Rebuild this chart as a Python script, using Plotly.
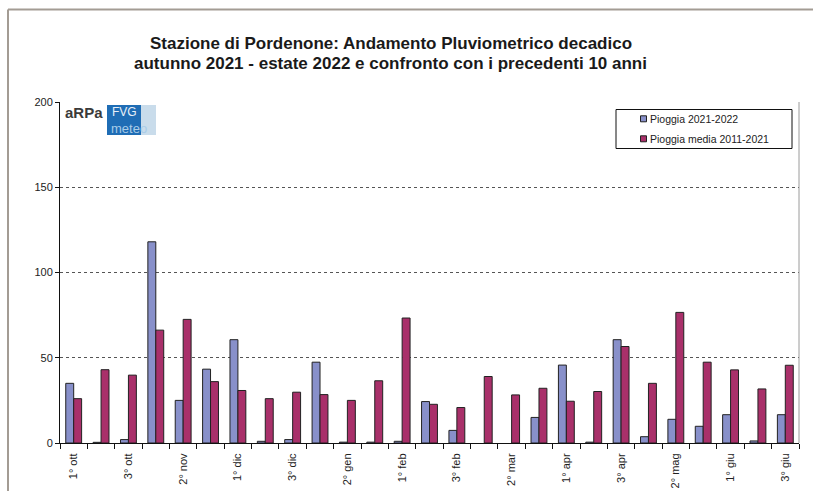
import plotly.graph_objects as go

categories = [
    "1° ott", "2° ott", "3° ott",
    "1° nov", "2° nov", "3° nov",
    "1° dic", "2° dic", "3° dic",
    "1° gen", "2° gen", "3° gen",
    "1° feb", "2° feb", "3° feb",
    "1° mar", "2° mar", "3° mar",
    "1° apr", "2° apr", "3° apr",
    "1° mag", "2° mag", "3° mag",
    "1° giu", "2° giu", "3° giu",
]
pioggia_2021_2022 = [35, 0.4, 2, 118, 25, 43.3, 60.6, 1, 2, 47.4, 0.5, 0.5, 1, 24.3,
                     7.4, None, None, 15, 45.7, 0.5, 60.6, 3.7, 13.9, 9.8, 16.6, 1.2, 16.6]
pioggia_media_2011_2021 = [26, 43, 39.8, 66.2, 72.5, 36, 30.8, 26, 29.8, 28.4, 25, 36.5,
                           73.3, 22.7, 20.8, 39, 28.2, 32.1, 24.5, 30.2, 56.6, 35, 76.6,
                           47.4, 42.9, 31.7, 45.6]
series_names = ["Pioggia 2021-2022", "Pioggia media 2011-2021"]
series_colors = ["#8890CA", "#A9306A"]
y_ticks = [0, 50, 100, 150, 200]
title_lines = [
    "Stazione di Pordenone: Andamento Pluviometrico decadico",
    "autunno 2021 - estate 2022 e confronto con i precedenti 10 anni",
]

x_idx = list(range(len(categories)))
label_idx = x_idx[::2]
label_text = [categories[i] for i in label_idx]

FONT = "Liberation Sans, Arial, sans-serif"

fig = go.Figure()
for vals, name, col in zip([pioggia_2021_2022, pioggia_media_2011_2021], series_names, series_colors):
    fig.add_trace(go.Bar(
        x=x_idx, y=vals, name=name,
        marker=dict(color=col, line=dict(color="#222222", width=1)),
    ))

L, R, T, B = 60, 799, 102, 443

def px(xp):
    return (xp - L) / float(R - L)
def py(yp):
    return (B - yp) / float(B - T)

shapes = [
    dict(type="line", xref="paper", yref="paper", x0=px(8), x1=px(814), y0=py(9.5), y1=py(9.5),
         line=dict(color="#A39C94", width=2)),
    dict(type="line", xref="paper", yref="paper", x0=px(8), x1=px(8), y0=py(9.5), y1=py(495),
         line=dict(color="#A39C94", width=2)),
    dict(type="line", xref="paper", yref="paper", x0=1, x1=1, y0=0, y1=1,
         line=dict(color="#9A9A9A", width=1)),
    # logo
    dict(type="rect", xref="paper", yref="paper", x0=px(107), x1=px(141), y0=py(135), y1=py(105),
         fillcolor="#1F6DB5", line=dict(width=0), layer="above"),
    dict(type="rect", xref="paper", yref="paper", x0=px(141), x1=px(156), y0=py(135), y1=py(105),
         fillcolor="#C9DCEB", line=dict(width=0), layer="above"),
    # legend box
    dict(type="rect", xref="paper", yref="paper", x0=px(616), x1=px(792), y0=py(148.5), y1=py(109.5),
         fillcolor="white", line=dict(color="#111111", width=1), layer="above"),
]

annotations = [
    dict(text="<b>aRPa</b>", xref="paper", yref="paper", x=px(63), y=py(113), xanchor="left", yanchor="middle",
         showarrow=False, font=dict(family=FONT, size=15, color="#3a3a3a")),
    dict(text="FVG", xref="paper", yref="paper", x=px(110), y=py(112), xanchor="left", yanchor="middle",
         showarrow=False, font=dict(family=FONT, size=12, color="#E8F0F8")),
    dict(text="meteo", xref="paper", yref="paper", x=px(109), y=py(128), xanchor="left", yanchor="middle",
         showarrow=False, font=dict(family=FONT, size=13, color="#A8CCE8")),
    dict(text="<b>" + title_lines[0] + "</b>", xref="paper", yref="paper", x=px(390.5), y=py(44),
         xanchor="center", yanchor="middle", showarrow=False,
         font=dict(family=FONT, size=17, color="#1a1a1a")),
    dict(text="<b>" + title_lines[1] + "</b>", xref="paper", yref="paper", x=px(390.5), y=py(63),
         xanchor="center", yanchor="middle", showarrow=False,
         font=dict(family=FONT, size=17, color="#1a1a1a")),
]

# custom legend entries
for i, (name, col) in enumerate(zip(series_names, series_colors)):
    yc = 118.8 + 20 * i
    shapes.append(dict(type="rect", xref="paper", yref="paper", x0=px(640.5), x1=px(646.5),
                       y0=py(yc + 3), y1=py(yc - 3), fillcolor=col,
                       line=dict(color="#222222", width=1), layer="above"))
    annotations.append(dict(text=name, xref="paper", yref="paper", x=px(647.5), y=py(yc),
                            xanchor="left", yanchor="middle", showarrow=False,
                            font=dict(family=FONT, size=10.5, color="#222222")))

fig.update_layout(
    width=813, height=491,
    margin=dict(l=L, r=813 - R, t=T, b=491 - B, autoexpand=False),
    paper_bgcolor="white", plot_bgcolor="white",
    barmode="group", bargap=0.42, bargroupgap=0,
    font=dict(family=FONT, size=11, color="#222222"),
    shapes=shapes,
    annotations=annotations,
    showlegend=False,
)

fig.update_xaxes(
    range=[-0.5, len(categories) - 0.5], automargin=False,
    tickmode="array", tickvals=label_idx, ticktext=label_text,
    tickangle=-90, ticks="outside", ticklen=5, tickcolor="rgba(0,0,0,0)",
    showline=True, linecolor="#111111", linewidth=1,
    showgrid=False, zeroline=False,
    tickfont=dict(family=FONT, size=11, color="#222222"),
    minor=dict(tickvals=[i - 0.5 for i in range(len(categories) + 1)], ticks="outside",
               ticklen=5, tickcolor="#111111", showgrid=False),
)
fig.update_yaxes(
    range=[0, 200], automargin=False, tickmode="array", tickvals=y_ticks,
    ticks="outside", ticklen=4, tickcolor="#111111",
    showline=True, linecolor="#111111", linewidth=1,
    showgrid=True, gridcolor="#555555", griddash="dot", gridwidth=1,
    zeroline=False,
    tickfont=dict(family=FONT, size=11, color="#222222"),
)

fig.write_html("out.html", config={"displayModeBar": False},
               post_script="document.body.style.margin='0';document.body.style.overflow='hidden';")
